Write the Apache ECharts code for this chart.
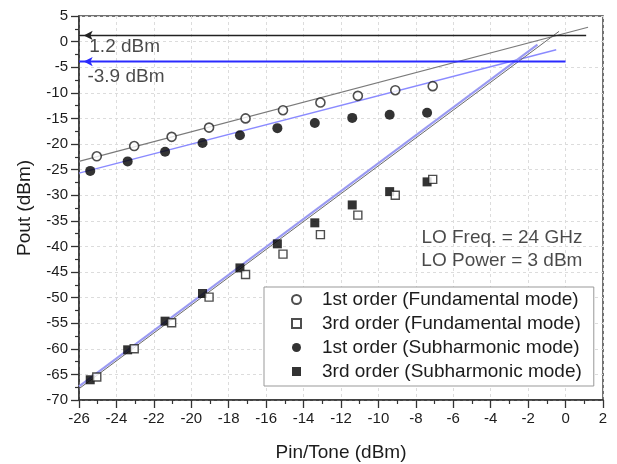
<!DOCTYPE html>
<html>
<head>
<meta charset="utf-8">
<script src="https://cdn.jsdelivr.net/npm/echarts@6/dist/echarts.min.js"></script>
<style>html,body{margin:0;padding:0;background:#fff}#c{width:617px;height:464px}</style>
</head>
<body>
<div id="c"></div>
<script>
// ---- data ----
var xFund = [-25.05, -23.05, -21.05, -19.05, -17.1, -15.1, -13.1, -11.1, -9.1, -7.1];
var fund1 = [-22.4, -20.4, -18.6, -16.8, -15.0, -13.4, -11.9, -10.6, -9.5, -8.7];
var fund3 = [-65.5, -60.0, -54.9, -49.9, -45.5, -41.5, -37.7, -33.9, -30.0, -26.9];
var xSub = [-25.4, -23.4, -21.4, -19.4, -17.4, -15.4, -13.4, -11.4, -9.4, -7.4];
var sub1 = [-25.25, -23.4, -21.5, -19.8, -18.3, -16.9, -15.9, -14.9, -14.3, -13.9];
var sub3 = [-66.05, -60.2, -54.6, -49.2, -44.2, -39.5, -35.4, -31.9, -29.3, -27.4];

var fitFund1 = [[-26, -23.4], [1.2, 2.8]];
var fitSub1 = [[-26, -25.7], [-0.5, -1.6]];
var fitFund3 = [[-26, -67.8], [-0.35, 2.0]];
var fitSub3 = [[-26, -67.35], [-1.5, -0.6]];

var oipFund = 1.2, oipSub = -3.9;
var oipFundX = [-26, -25.75, 1.1];
var oipSubX = [-26, -25.75, 0];

var seriesNames = ['1st order (Fundamental mode)', '3rd order (Fundamental mode)',
                   '1st order (Subharmonic mode)', '3rd order (Subharmonic mode)'];
var noteOip = ['1.2 dBm', '-3.9 dBm'];
var noteLO = ['LO Freq. = 24 GHz', 'LO Power = 3 dBm'];

function pts(xs, ys) { return xs.map(function (x, i) { return [x, ys[i]]; }); }
function hline(xs, y) {
  return xs.map(function (x, i) {
    if (i === 1) return { value: [x, y], symbol: 'arrow', symbolRotate: 90, symbolSize: [7, 9] };
    return { value: [x, y], symbol: 'none' };
  });
}

var FONT = 'Liberation Sans, Arial, sans-serif';
var TXT = '#1c1c1c';

var chart = echarts.init(document.getElementById('c'), null, { renderer: 'canvas' });

var s = [];
function fit(data, color, w) {
  s.push({ type: 'line', data: data, symbol: 'none', silent: true, z: 1,
           lineStyle: { color: color, width: w } });
}
fit(fitFund1, '#7a7a7a', 1.2);
fit(fitSub1, '#8a8aff', 1.4);
fit(fitSub3, '#9a9af2', 2.2);
fit(fitFund3, '#6a6a6a', 1.0);

s.push({ type: 'line', data: hline(oipFundX, oipFund), lineStyle: { color: '#222', width: 1.5 },
         itemStyle: { color: '#222' }, z: 2, silent: true });
s.push({ type: 'line', data: hline(oipSubX, oipSub), lineStyle: { color: '#2a2aff', width: 2 },
         itemStyle: { color: '#2a2aff' }, z: 2, silent: true });

s.push({ name: seriesNames[0], type: 'scatter', data: pts(xFund, fund1), symbol: 'circle', symbolSize: 9,
         itemStyle: { color: '#fff', borderColor: '#222', borderWidth: 1.6 }, z: 5 });
s.push({ name: seriesNames[1], type: 'scatter', data: pts(xFund, fund3), symbol: 'rect', symbolSize: 8,
         itemStyle: { color: '#fff', borderColor: '#222', borderWidth: 1.4 }, z: 5 });
s.push({ name: seriesNames[2], type: 'scatter', data: pts(xSub, sub1), symbol: 'circle', symbolSize: 10,
         itemStyle: { color: '#000' }, z: 4 });
s.push({ name: seriesNames[3], type: 'scatter', data: pts(xSub, sub3), symbol: 'rect', symbolSize: 9,
         itemStyle: { color: '#000' }, z: 4 });

// text annotations anchored in data coordinates
function note(x, y, text, align) {
  s.push({ type: 'scatter', data: [[x, y]], symbolSize: 0, silent: true, z: 6,
           label: { show: true, position: [0, 0], align: align, verticalAlign: 'middle',
                    formatter: text, fontFamily: FONT, fontSize: 19, color: TXT } });
}
note(-25.45, -1.1, noteOip[0], 'left');
note(-25.55, -6.9, noteOip[1], 'left');
note(0.9, -38.4, noteLO[0], 'right');
note(0.9, -42.85, noteLO[1], 'right');

var option = {
  animation: false,
  backgroundColor: '#fff',
  grid: { left: 79, right: 14, top: 16, bottom: 64, show: true, borderColor: '#444', borderWidth: 1.5,
          backgroundColor: 'transparent', containLabel: false, outerBoundsMode: 'none' },
  xAxis: {
    type: 'value', min: -26, max: 2, interval: 2,
    name: 'Pin/Tone (dBm)', nameLocation: 'middle', nameGap: 43,
    nameTextStyle: { fontFamily: FONT, fontSize: 19, color: TXT },
    axisLine: { show: true, onZero: false, lineStyle: { color: '#333', width: 1.5 } },
    axisTick: { show: true, inside: false, length: 8, lineStyle: { color: '#333', width: 1.3 } },
    minorTick: { show: true, splitNumber: 2, length: 4, lineStyle: { color: '#333', width: 1.2 } },
    axisLabel: { fontFamily: FONT, fontSize: 15, color: TXT, margin: 11 },
    splitLine: { show: true, lineStyle: { color: '#dcdcdc', width: 1, type: [3, 3] } }
  },
  yAxis: {
    type: 'value', min: -70, max: 5, interval: 5,
    name: 'Pout (dBm)', nameLocation: 'middle', nameGap: 45, nameRotate: 90,
    nameTextStyle: { fontFamily: FONT, fontSize: 19, color: TXT },
    axisLine: { show: true, onZero: false, lineStyle: { color: '#333', width: 1.5 } },
    axisTick: { show: true, inside: false, length: 8, lineStyle: { color: '#333', width: 1.3 } },
    minorTick: { show: true, splitNumber: 2, length: 4, lineStyle: { color: '#333', width: 1.2 } },
    axisLabel: { fontFamily: FONT, fontSize: 15, color: TXT, margin: 11 },
    splitLine: { show: true, lineStyle: { color: '#dcdcdc', width: 1, type: [3, 3] } }
  },
  legend: {
    data: seriesNames, orient: 'vertical', left: 264, top: 287,
    itemWidth: 9, itemHeight: 9, itemGap: 5,
    padding: [3, 12, 5, 27],
    borderColor: '#999', borderWidth: 1, backgroundColor: '#fff',
    selectedMode: false,
    textStyle: { fontFamily: FONT, fontSize: 19, color: TXT, padding: [0, 0, 0, 16] }
  },
  series: s
};
chart.setOption(option);
</script>
</body>
</html>
